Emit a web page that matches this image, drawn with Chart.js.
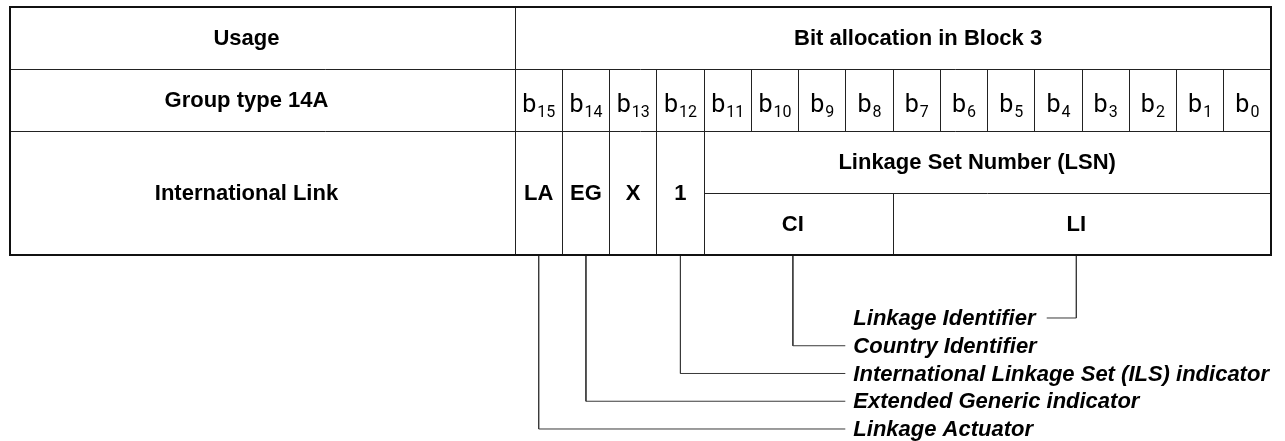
<!DOCTYPE html>
<html>
<head>
<meta charset="utf-8">
<script src="https://cdn.jsdelivr.net/npm/chart.js@4/dist/chart.umd.min.js"></script>
<style>
  html, body { margin: 0; padding: 0; background: #fff; }
  canvas { display: block; }
</style>
</head>
<body>
<canvas id="chart" width="1285" height="441"></canvas>
<script>
// ---- data ----
const bits = [15, 14, 13, 12, 11, 10, 9, 8, 7, 6, 5, 4, 3, 2, 1, 0];
const usageLabels = ['Usage', 'Group type 14A', 'International Link'];
const headerTitle = 'Bit allocation in Block 3';
const fieldLabels = ['LA', 'EG', 'X', '1'];
const fieldBits = [15, 14, 13, 12];
const lsnLabel = 'Linkage Set Number (LSN)';
const lsnBits = [11, 0];
const subLabels = ['CI', 'LI'];
const subBits = [[11, 8], [7, 0]];
const notes = ['Linkage Identifier', 'Country Identifier', 'International Linkage Set (ILS) indicator',
               'Extended Generic indicator', 'Linkage Actuator'];
const noteTargets = ['LI', 'CI', '1', 'EG', 'LA'];

// ---- layout (x in bit columns, y in table rows) ----
const USAGE_W = 10.69;      // width of the usage column, in bit columns
const PAD = { left: 10, right: 14, top: 7, bottom: 0 };
const Y_MAX = 7;
const NOTE_Y0 = 5.016, NOTE_STEP = 0.4476;
const NOTE_X = 7.16;        // left edge of the note texts
const NOTE_GAP = 0.17;
const BOLD = "bold 22px 'Liberation Sans', Arial, sans-serif";
const ITALIC = "italic bold 22px 'Liberation Sans', Arial, sans-serif";

const unitPx = (1285 - PAD.left - PAD.right) / (16 + USAGE_W);
const colOf = b => 15 - b;               // left edge of a bit
const centerOf = (from, to) => (colOf(from) + colOf(to) + 1) / 2;

// where each labelled field sits (label centre)
const labelX = {};
fieldLabels.forEach((l, i) => { labelX[l] = centerOf(fieldBits[i], fieldBits[i]); });
subLabels.forEach((l, i) => { labelX[l] = centerOf(subBits[i][0], subBits[i][1]) - 0.12; });

const measure = document.createElement('canvas').getContext('2d');
measure.font = ITALIC;

const leaders = notes.map((n, i) => {
  const xc = labelX[noteTargets[i]];
  const ny = NOTE_Y0 + i * NOTE_STEP;
  let xEnd;
  if (xc > NOTE_X) xEnd = NOTE_X + measure.measureText(n).width / unitPx + NOTE_GAP * 1.4;
  else xEnd = NOTE_X - NOTE_GAP;
  return {
    label: n,
    data: [{ x: xc, y: 4 }, { x: xc, y: ny }, { x: xEnd, y: ny }],
    showLine: true,
    borderColor: '#3a3a3a',
    borderWidth: 1,
    pointRadius: 0,
    fill: false,
    tension: 0
  };
});

const tablePlugin = {
  id: 'bitTable',
  afterDatasetsDraw(chart) {
    const ctx = chart.ctx;
    const sx = chart.scales.x, sy = chart.scales.y;
    const px = v => sx.getPixelForValue(v);
    const py = v => sy.getPixelForValue(v);
    const crisp = v => Math.floor(v) + 0.5;

    ctx.save();
    ctx.strokeStyle = '#222';
    ctx.lineWidth = 1;
    function vline(x, y0, y1) {
      ctx.beginPath();
      ctx.moveTo(crisp(px(x)), py(y0));
      ctx.lineTo(crisp(px(x)), py(y1));
      ctx.stroke();
    }
    function hline(y, x0, x1) {
      ctx.beginPath();
      ctx.moveTo(px(x0), crisp(py(y)));
      ctx.lineTo(px(x1), crisp(py(y)));
      ctx.stroke();
    }
    vline(0, 0, 4);
    hline(1, -USAGE_W, 16);
    hline(2, -USAGE_W, 16);
    for (let k = 1; k < 16; k++) vline(k, 1, 2);
    fieldBits.forEach(b => vline(colOf(b) + 1, 2, 4));
    hline(3, colOf(lsnBits[0]), colOf(lsnBits[1]) + 1);
    vline(colOf(subBits[1][0]), 3, 4);

    // outer frame
    ctx.lineWidth = 2;
    ctx.strokeStyle = '#111';
    ctx.strokeRect(px(-USAGE_W), py(0), px(16) - px(-USAGE_W), py(4) - py(0));

    // texts
    ctx.fillStyle = '#000';
    ctx.textAlign = 'center';
    ctx.textBaseline = 'middle';
    ctx.font = BOLD;
    const ux = px(-USAGE_W / 2 - 0.34);
    ctx.fillText(usageLabels[0], ux, py(0.5) + 1);
    ctx.fillText(usageLabels[1], ux, py(1.5) + 1);
    ctx.fillText(usageLabels[2], ux, py(3) + 1);
    ctx.fillText(headerTitle, px(8.53), py(0.5) + 1);
    fieldLabels.forEach((l, i) => ctx.fillText(l, px(labelX[l]), py(3) + 1));
    ctx.fillText(lsnLabel, px(centerOf(lsnBits[0], lsnBits[1]) - 0.22), py(2.5) + 1);
    subLabels.forEach(l => ctx.fillText(l, px(labelX[l]), py(3.5) + 1));

    // bit numbers: b with subscript
    ctx.textAlign = 'left';
    ctx.textBaseline = 'alphabetic';
    bits.forEach(b => {
      const bFont = "25px Roboto, 'Noto Sans', sans-serif";
      const sFont = "16px Roboto, 'Noto Sans', sans-serif";
      ctx.font = bFont;
      const wb = ctx.measureText('b').width;
      ctx.font = sFont;
      const ws = ctx.measureText(String(b)).width;
      const x0 = px(colOf(b) + 0.5) - (wb + ws + 1) / 2;
      const base = py(1.5) + 12;
      ctx.font = bFont;
      ctx.fillText('b', x0, base);
      ctx.font = sFont;
      ctx.fillText(String(b), x0 + wb + 1, base + 5);
    });

    // notes
    ctx.font = ITALIC;
    ctx.textBaseline = 'middle';
    notes.forEach((n, i) => ctx.fillText(n, px(NOTE_X), py(NOTE_Y0 + i * NOTE_STEP) + 1));
    ctx.restore();
  }
};

new Chart(document.getElementById('chart'), {
  type: 'scatter',
  data: { datasets: leaders },
  options: {
    responsive: false,
    animation: false,
    events: [],
    layout: { padding: PAD },
    plugins: { legend: { display: false }, tooltip: { enabled: false } },
    scales: {
      x: { type: 'linear', min: -USAGE_W, max: 16, display: false },
      y: { type: 'linear', min: 0, max: Y_MAX, reverse: true, display: false }
    }
  },
  plugins: [tablePlugin]
});
</script>
</body>
</html>
